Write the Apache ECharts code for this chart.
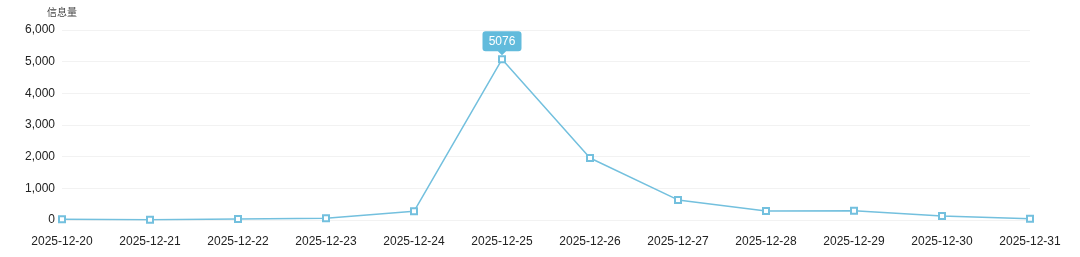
<!DOCTYPE html>
<html><head><meta charset="utf-8">
<script src="https://cdn.jsdelivr.net/npm/echarts@6/dist/echarts.min.js"></script>
<style>html,body{margin:0;padding:0;background:#fff}#c{width:1080px;height:257px}</style>
</head><body><div id="c"></div>
<script>
const categories = ['2025-12-20','2025-12-21','2025-12-22','2025-12-23','2025-12-24','2025-12-25','2025-12-26','2025-12-27','2025-12-28','2025-12-29','2025-12-30','2025-12-31'];
const values = [25, 10, 30, 55, 276, 5076, 1958, 635, 286, 295, 127, 41];
const yTicks = [0, 1000, 2000, 3000, 4000, 5000, 6000];
const peakIndex = values.indexOf(Math.max(...values));

const chart = echarts.init(document.getElementById('c'));
chart.setOption({
  animation: false,
  textStyle: { fontFamily: 'Liberation Sans, Arial, sans-serif' },
  grid: { left: 62, right: 50, top: 30, bottom: 37 },
  xAxis: {
    type: 'category', data: categories, boundaryGap: false,
    axisLine: { show: false }, axisTick: { show: false },
    axisLabel: { color: '#222', fontSize: 12, margin: 16, interval: 0 }
  },
  yAxis: {
    type: 'value', min: yTicks[0], max: yTicks[yTicks.length-1], interval: 1000,
    name: '信息量', nameTextStyle: { color: '#444', fontSize: 10, fontFamily: 'Noto Sans CJK SC' },
    nameGap: 13,
    axisLine: { show: false }, axisTick: { show: false },
    axisLabel: { color: '#222', fontSize: 12, margin: 7 },
    splitLine: { lineStyle: { color: '#f2f2f2' } }
  },
  series: [{
    type: 'line', data: values,
    symbol: 'emptyRect', symbolSize: 6,
    itemStyle: { color: '#73c0de', borderWidth: 1 },
    lineStyle: { color: '#73c0de', width: 1.5 },
    markPoint: {
      data: [{ coord: [peakIndex, values[peakIndex]], value: values[peakIndex] }],
      symbol: 'path://M3,0 H35 Q38,0 38,3 V17 Q38,20 35,20 H23 L19,24 L15,20 H3 Q0,20 0,17 V3 Q0,0 3,0 Z',
      symbolSize: [39, 24],
      symbolOffset: [0, -16],
      itemStyle: { color: '#62bbdc' },
      label: { color: '#fff', fontSize: 12, offset: [0, -2] }
    }
  }]
});
</script></body></html>
